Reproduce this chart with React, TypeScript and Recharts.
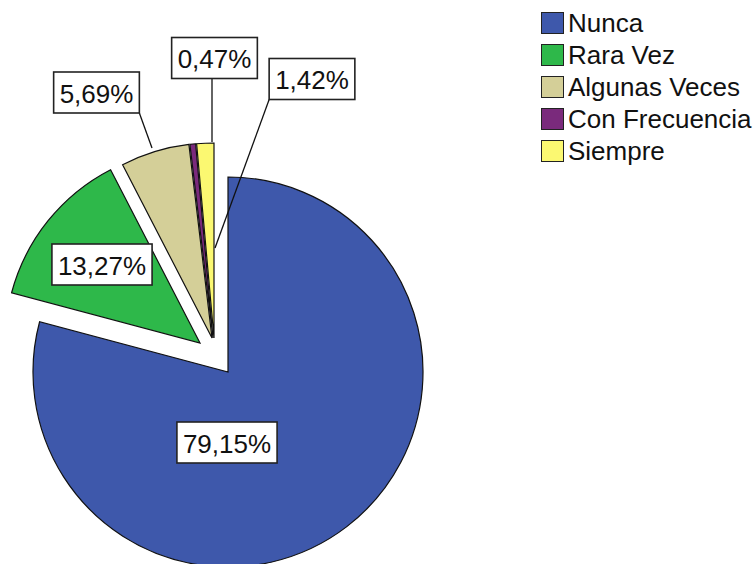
import { PieChart, Pie, Cell, Legend } from "recharts";

const CATEGORIES = ["Nunca", "Rara Vez", "Algunas Veces", "Con Frecuencia", "Siempre"];
const PERCENTS = [79.15, 13.27, 5.69, 0.47, 1.42];
const COLORS = ["#3e58ab", "#2eb84a", "#d4cf98", "#7a2a7c", "#fbf871"];

// layout (page pixels)
const CENTER = { x: 228, y: 372 };
const RADIUS = 195;
// exploded slices: shift of each slice's vertex
const EXPLODE: [number, number][] = [
  [0, 0],
  [-28, -29],
  [-16, -34],
  [-15, -34],
  [-14, -34],
];
// label box centre, relative to the slice vertex
const LABEL_OFFSET: [number, number][] = [
  [-1, 70.5],
  [-98, -78.5],
  [-115.5, -245.5],
  [1.5, -280],
  [98, -259],
];
// leader line end, relative to the slice vertex
const LEADER_TARGET: ([number, number] | null)[] = [
  null,
  null,
  [-60, -190],
  [-1, -196],
  [1, -90],
];

const FONT = "'Liberation Sans', Arial, sans-serif";
const FONT_SIZE = 26;

const rows = CATEGORIES.map((name, i) => ({ name, value: PERCENTS[i] }));

const fmt = (v: number) => v.toFixed(2).replace(".", ",") + "%";

function textWidth(s: string) {
  let w = 0;
  for (const ch of s) {
    if (ch === ",") w += 0.278;
    else if (ch === "%") w += 0.889;
    else w += 0.556;
  }
  return w * FONT_SIZE;
}

function makeLabel(target: number) {
  // eslint-disable-next-line @typescript-eslint/no-explicit-any
  return (props: any) => {
    if (props.index !== target) return <g />;
    const vx = CENTER.x + EXPLODE[target][0];
    const vy = CENTER.y + EXPLODE[target][1];
    const text = fmt(PERCENTS[target]);
    const w = textWidth(text) + 12;
    const h = 41;
    const bx = vx + LABEL_OFFSET[target][0];
    const by = vy + LABEL_OFFSET[target][1];
    const left = bx - w / 2;
    const top = by - h / 2;
    const lt = LEADER_TARGET[target];
    let line = null;
    if (lt) {
      const tx = vx + lt[0];
      const ty = vy + lt[1];
      const sx = Math.min(Math.max(tx, left), left + w);
      line = <line x1={sx} y1={top + h} x2={tx} y2={ty} stroke="#111" strokeWidth={1.3} />;
    }
    return (
      <g>
        {line}
        <rect x={left} y={top} width={w} height={h} fill="#fff" stroke="#222" strokeWidth={1.6} />
        <text
          x={bx}
          y={by + 1}
          textAnchor="middle"
          dominantBaseline="central"
          fontFamily={FONT}
          fontSize={FONT_SIZE}
          fill="#111"
        >
          {text}
        </text>
      </g>
    );
  };
}

function LegendBox() {
  return (
    <div style={{ fontFamily: FONT, fontSize: FONT_SIZE, color: "#111" }}>
      {CATEGORIES.map((c, i) => (
        <div key={c} style={{ display: "flex", alignItems: "center", height: 32, whiteSpace: "nowrap" }}>
          <span
            style={{
              display: "inline-block",
              width: 21,
              height: 20,
              background: COLORS[i],
              border: "1.5px solid #222",
              marginRight: 4,
            }}
          />
          <span style={{ lineHeight: "32px" }}>{c}</span>
        </div>
      ))}
    </div>
  );
}

export default function App() {
  return (
    <div style={{ position: "absolute", left: 0, top: 0, width: 754, height: 564, background: "#fff" }}>
      <PieChart width={754} height={564} margin={{ top: 0, right: 0, bottom: 0, left: 0 }}>
        {CATEGORIES.map((_, i) => (
          <Pie
            key={i}
            data={rows}
            dataKey="value"
            nameKey="name"
            cx={CENTER.x + EXPLODE[i][0]}
            cy={CENTER.y + EXPLODE[i][1]}
            outerRadius={RADIUS}
            startAngle={90}
            endAngle={-270}
            isAnimationActive={false}
            legendType="none"
            labelLine={false}
            label={makeLabel(i)}
          >
            {rows.map((r, j) => (
              <Cell
                key={r.name}
                fill={j === i ? COLORS[j] : "transparent"}
                stroke={j === i ? "#111" : "none"}
                strokeWidth={1.2}
              />
            ))}
          </Pie>
        ))}
        <Legend
          content={() => <LegendBox />}
          wrapperStyle={{ position: "absolute", top: 7, left: 541, width: 213, right: "auto", bottom: "auto" }}
        />
      </PieChart>
    </div>
  );
}
